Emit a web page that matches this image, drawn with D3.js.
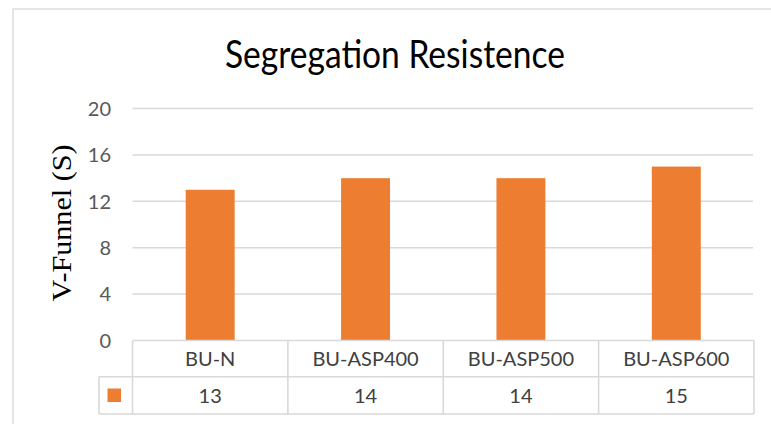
<!DOCTYPE html>
<html>
<head>
<meta charset="utf-8">
<script src="https://cdn.jsdelivr.net/npm/d3@7"></script>
<style>
  html, body { margin: 0; padding: 0; background: #fff; }
  svg { display: block; }
</style>
</head>
<body>
<svg id="chart" width="771" height="424"></svg>
<script>
const categories = ["BU-N", "BU-ASP400", "BU-ASP500", "BU-ASP600"];
const values = [13, 14, 14, 15];
const yTicks = [0, 4, 8, 12, 16, 20];
const title = "Segregation Resistence";
const yTitle = "V-Funnel (S)";

(function () {
const svg = d3.select("#chart");
const sans = "Lato, 'Open Sans', sans-serif";
const grid = "#d9d9d9";

const plotLeft = 132.5, plotRight = 754, plotTop = 108.6, zeroY = 340.5;
const rowMid = 376.7, tableBottom = 414, legendLeft = 99;

const x = d3.scaleBand().domain(categories).range([plotLeft, plotRight]).padding(0);
const y = d3.scaleLinear().domain([0, 20]).range([zeroY, plotTop]);

// chart frame
svg.append("rect").attr("x", 13).attr("y", 9).attr("width", 820).attr("height", 520)
  .attr("fill", "none").attr("stroke", grid).attr("stroke-width", 1.3);

// title
svg.append("text").attr("x", 225).attr("y", 68).text(title)
  .attr("font-family", sans).attr("font-size", 39).attr("fill", "#000")
  .attr("textLength", 340).attr("lengthAdjust", "spacingAndGlyphs");

// gridlines (excluding 0, which is the table top)
svg.append("g").selectAll("line").data(yTicks.filter(d => d > 0)).join("line")
  .attr("x1", plotLeft).attr("x2", plotRight - 1).attr("y1", d => y(d)).attr("y2", d => y(d))
  .attr("stroke", grid).attr("stroke-width", 1.5);

// y tick labels
svg.append("g").selectAll("text").data(yTicks).join("text")
  .attr("x", 111).attr("y", d => y(d)).attr("dy", "0.36em")
  .attr("text-anchor", "end").attr("font-family", sans).attr("font-size", 20)
  .attr("fill", "#595959").text(d => d);

// y axis title
svg.append("text")
  .attr("transform", `translate(71,223) rotate(-90)`)
  .attr("text-anchor", "middle")
  .attr("font-family", "'Liberation Serif', 'Times New Roman', serif")
  .attr("font-size", 28).attr("fill", "#000")
  .attr("textLength", 157).attr("lengthAdjust", "spacingAndGlyphs")
  .text(yTitle);

// bars
const barW = x.bandwidth() * 0.315;
svg.append("g").selectAll("rect").data(values).join("rect")
  .attr("x", (d, i) => x(categories[i]) + x.bandwidth() / 2 - barW / 2)
  .attr("width", barW)
  .attr("y", d => y(d))
  .attr("height", d => y(0) - y(d))
  .attr("fill", "#ed7d31");

// data table
const t = svg.append("g").attr("stroke", grid).attr("stroke-width", 1.6).attr("fill", "none");
t.append("line").attr("x1", plotLeft).attr("x2", plotRight).attr("y1", zeroY).attr("y2", zeroY);
t.append("line").attr("x1", legendLeft).attr("x2", plotRight).attr("y1", rowMid).attr("y2", rowMid);
t.append("line").attr("x1", legendLeft).attr("x2", plotRight).attr("y1", tableBottom).attr("y2", tableBottom);
t.append("line").attr("x1", legendLeft).attr("x2", legendLeft).attr("y1", rowMid).attr("y2", tableBottom);
const bounds = categories.map(c => x(c)).concat([plotRight]);
t.selectAll("line.v").data(bounds).join("line").attr("class", "v")
  .attr("x1", d => d).attr("x2", d => d).attr("y1", zeroY).attr("y2", tableBottom);

// legend key
svg.append("rect").attr("x", 107.5).attr("y", 388.5).attr("width", 13.5).attr("height", 13.5)
  .attr("fill", "#ed7d31");

// category labels
svg.append("g").selectAll("text").data(categories).join("text")
  .attr("x", d => x(d) + x.bandwidth() / 2).attr("y", (zeroY + rowMid) / 2).attr("dy", "0.36em")
  .attr("text-anchor", "middle").attr("font-family", sans).attr("font-size", 20)
  .attr("fill", "#404040").text(d => d);

// value labels
svg.append("g").selectAll("text").data(values).join("text")
  .attr("x", (d, i) => x(categories[i]) + x.bandwidth() / 2).attr("y", (rowMid + tableBottom) / 2).attr("dy", "0.36em")
  .attr("text-anchor", "middle").attr("font-family", sans).attr("font-size", 20)
  .attr("fill", "#404040").text(d => d);
})();
</script>
</body>
</html>
